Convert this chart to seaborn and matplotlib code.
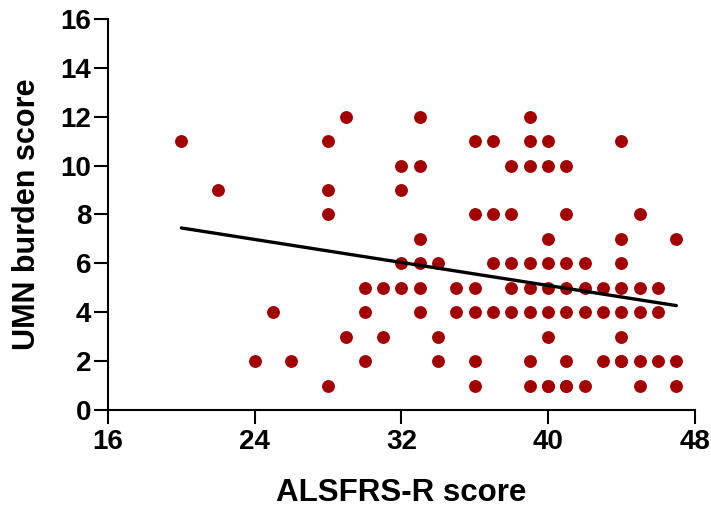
import matplotlib
matplotlib.use("Agg")
import matplotlib.pyplot as plt
import seaborn as sns
import pandas as pd

sns.set_theme(style="ticks")
plt.rcParams['font.family'] = ['Liberation Sans', 'DejaVu Sans']
plt.rcParams['font.weight'] = 'bold'
plt.rcParams.update({"text.color": "black", "axes.labelcolor": "black",
                     "xtick.color": "black", "ytick.color": "black"})

# points, column by column (ALSFRS-R score, UMN burden score)
alsfrs = [20, 22, 24, 25, 26,
          28, 28, 28, 28, 29, 29,
          30, 30, 30, 31, 31,
          32, 32, 32, 32, 33, 33, 33, 33, 33, 33,
          34, 34, 34, 35, 35,
          36, 36, 36, 36, 36, 36,
          37, 37, 37, 37,
          38, 38, 38, 38, 38,
          39, 39, 39, 39, 39, 39, 39, 39,
          40, 40, 40, 40, 40, 40, 40, 40, 40,
          41, 41, 41, 41, 41, 41, 41, 41,
          42, 42, 42, 42,
          43, 43, 43,
          44, 44, 44, 44, 44, 44, 44, 44,
          45, 45, 45, 45, 45,
          46, 46, 46,
          47, 47, 47]
umn = [11, 9, 2, 4, 2,
       11, 9, 8, 1, 12, 3,
       5, 4, 2, 5, 3,
       10, 9, 6, 5, 12, 10, 7, 6, 5, 4,
       6, 3, 2, 5, 4,
       11, 8, 5, 4, 2, 1,
       11, 8, 6, 4,
       10, 8, 6, 5, 4,
       12, 11, 10, 6, 5, 4, 2, 1,
       11, 10, 7, 6, 5, 4, 3, 1, 1,
       10, 8, 6, 5, 4, 2, 1, 1,
       6, 5, 4, 1,
       5, 4, 2,
       11, 7, 6, 5, 4, 3, 2, 2,
       8, 5, 4, 2, 1,
       5, 4, 2,
       7, 2, 1]
df = pd.DataFrame({"ALSFRS-R score": alsfrs, "UMN burden score": umn})

x_ticks = [16, 24, 32, 40, 48]
y_ticks = [0, 2, 4, 6, 8, 10, 12, 14, 16]

fig = plt.figure(figsize=(7.11, 5.15), dpi=100)
ax = fig.add_axes([0.152, 0.204, 0.825, 0.759])

sns.regplot(data=df, x="ALSFRS-R score", y="UMN burden score", ci=None, ax=ax,
            scatter_kws={"s": 86, "color": "#a30000", "linewidths": 0, "alpha": 1},
            line_kws={"color": "black", "linewidth": 2.4})

ax.set_xlim(16, 48)
ax.set_ylim(0, 16)
ax.set_xticks(x_ticks)
ax.set_yticks(y_ticks)
ax.tick_params(length=10, width=1.5, labelsize=20, color="black")
ax.tick_params(axis="x", pad=4)
ax.tick_params(axis="y", pad=2)
for lab in ax.get_xticklabels() + ax.get_yticklabels():
    lab.set_fontweight("bold")
sns.despine(ax=ax)
for s in ["left", "bottom"]:
    ax.spines[s].set_linewidth(1.5)
    ax.spines[s].set_color("black")
ax.set_xlabel("ALSFRS-R score", fontsize=22.5, fontweight="bold", labelpad=16)
ax.set_ylabel("UMN burden score", fontsize=22, fontweight="bold", labelpad=13)

fig.savefig("out.png", dpi=100)
